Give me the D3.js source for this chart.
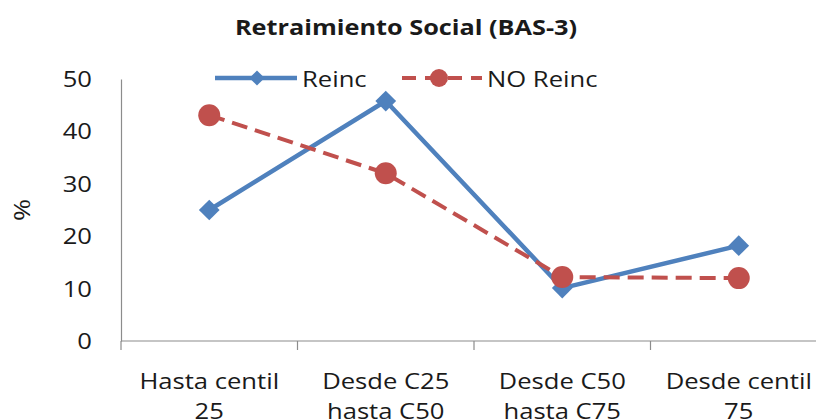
<!DOCTYPE html>
<html>
<head>
<meta charset="utf-8">
<script src="https://cdn.jsdelivr.net/npm/d3@7"></script>
<style>
  html, body { margin: 0; padding: 0; background: #fff; }
  svg { display: block; }
  text { font-family: "Open Sans", "DejaVu Sans", sans-serif; fill: #1a1a1a; }
</style>
</head>
<body>
<svg id="chart" width="816" height="419"></svg>
<script>
// ---- Data ----
const categories = ["Hasta centil\n25", "Desde C25\nhasta C50", "Desde C50\nhasta C75", "Desde centil\n75"];
const reinc = [25, 45.8, 10.1, 18.2];
const noReinc = [43.1, 32, 12.2, 12];
const yTicks = [0, 10, 20, 30, 40, 50];
const seriesNames = ["Reinc", "NO Reinc"];
const title = "Retraimiento Social (BAS-3)";
const yLabel = "%";

// ---- Layout ----
const SX = 1.22;           // horizontal stretch of text (reference font is wide)
const svg = d3.select("#chart");
const x0 = 121, x1 = 827, yTop = 79, yBot = 341;
const blue = "#4F81BD", red = "#C0504D", axisCol = "#8c8c8c";

const x = d3.scaleBand().domain(categories).range([x0, x1]);
const y = d3.scaleLinear().domain([0, 50]).range([yBot, yTop]);

function sText(g, px, py, str, opts = {}) {
  return g.append("text")
    .attr("transform", `translate(${px},${py}) scale(${opts.sx || SX},1)` + (opts.rot ? ` rotate(${opts.rot})` : ""))
    .attr("text-anchor", opts.anchor || "start")
    .style("font-size", (opts.size || 21) + "px")
    .style("font-weight", opts.weight || "normal")
    .text(str);
}

// Title
sText(svg, 406, 35, title, { anchor: "middle", size: 22, weight: "bold", sx: 1.15 });

// Y axis
const yAxis = svg.append("g").attr("transform", `translate(${x0},0)`)
  .call(d3.axisLeft(y).tickValues(yTicks).tickSize(0).tickPadding(0));
yAxis.select(".domain").attr("stroke", axisCol).attr("stroke-width", 1.2);
yAxis.selectAll(".tick text").each(function () {
  const t = d3.select(this);
  t.attr("x", null).attr("dy", null)
   .attr("transform", `translate(-29,7.5) scale(${SX},1)`)
   .style("font-size", "21px").style("font-family", "'Open Sans', sans-serif").attr("fill", "#1a1a1a");
});

// X axis line + boundary ticks
const xAxisG = svg.append("g");
xAxisG.append("line").attr("x1", x0).attr("x2", x1).attr("y1", yBot).attr("y2", yBot)
  .attr("stroke", axisCol).attr("stroke-width", 1.2);
const bounds = categories.map(c => x(c)).concat([x1]);
xAxisG.selectAll("line.tk").data(bounds).enter().append("line").attr("class", "tk")
  .attr("x1", d => d).attr("x2", d => d).attr("y1", yBot).attr("y2", yBot + 9)
  .attr("stroke", axisCol).attr("stroke-width", 1.2);

// X labels (two lines)
categories.forEach(c => {
  const cx = x(c) + x.bandwidth() / 2;
  c.split("\n").forEach((ln, i) => {
    sText(svg, cx, 389 + i * 30, ln, { anchor: "middle", size: 21 });
  });
});

// Y label
svg.append("text")
  .attr("transform", "translate(30,210) rotate(-90) scale(1.22,1)")
  .attr("text-anchor", "middle")
  .style("font-size", "22px")
  .text(yLabel);

// Lines
const cxOf = (i) => x(categories[i]) + x.bandwidth() / 2;
const line = d3.line().x((d, i) => cxOf(i)).y(d => y(d));
const diamond = d3.symbol().type(d3.symbolSquare).size(215);
const diamondSmall = d3.symbol().type(d3.symbolSquare).size(115);

svg.append("path").datum(reinc).attr("d", line)
  .attr("fill", "none").attr("stroke", blue).attr("stroke-width", 4.5).attr("stroke-linejoin", "round");
svg.selectAll("path.dm").data(reinc).enter().append("path").attr("class", "dm")
  .attr("d", diamond)
  .attr("transform", (d, i) => `translate(${cxOf(i)},${y(d)}) rotate(45)`)
  .attr("fill", blue);

svg.append("path").datum(noReinc).attr("d", line)
  .attr("fill", "none").attr("stroke", red).attr("stroke-width", 4).attr("stroke-dasharray", "16,8");
svg.selectAll("circle.ci").data(noReinc).enter().append("circle").attr("class", "ci")
  .attr("cx", (d, i) => cxOf(i)).attr("cy", d => y(d)).attr("r", 11)
  .attr("fill", red);

// Legend
const ly = 78;
svg.append("line").attr("x1", 215).attr("x2", 297).attr("y1", ly).attr("y2", ly)
  .attr("stroke", blue).attr("stroke-width", 4.5);
svg.append("path").attr("d", diamondSmall).attr("transform", `translate(257,${ly}) rotate(45)`).attr("fill", blue);
sText(svg, 302, 87, seriesNames[0], { size: 21 });

svg.append("line").attr("x1", 402).attr("x2", 482).attr("y1", ly).attr("y2", ly)
  .attr("stroke", red).attr("stroke-width", 4).attr("stroke-dasharray", "14,9");
svg.append("circle").attr("cx", 439).attr("cy", ly).attr("r", 9).attr("fill", red);
sText(svg, 487, 87, seriesNames[1], { size: 21 });
</script>
</body>
</html>
